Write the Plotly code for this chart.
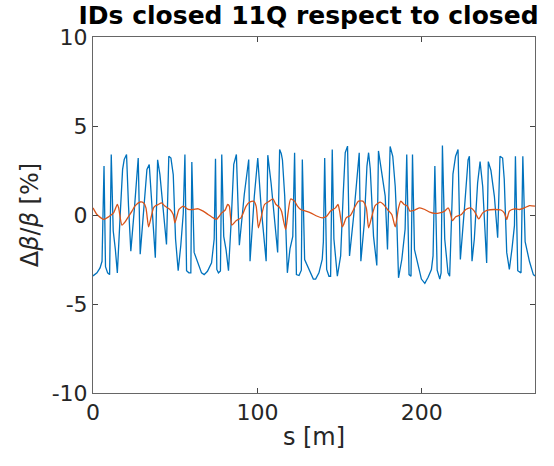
import plotly.graph_objects as go

# Beta-beat data
blue_s = [0.0, 2.4, 4.3, 5.5, 6.7, 7.6, 8.9, 10.1, 11.1, 12.3, 13.6, 14.8, 16.6, 18.0, 19.0, 20.4,
          21.6, 23.0, 25.3, 27.5, 28.7, 30.8, 32.8, 34.2, 35.8, 37.9, 39.3, 40.7, 42.7, 44.7,
          46.1, 47.4, 48.8, 50.2, 51.8, 53.4, 54.9, 55.9, 56.9, 58.3, 59.5, 60.1, 61.5, 63.6,
          66.0, 67.6, 69.6, 72.1, 73.7, 74.5, 75.3, 76.3, 77.5, 78.3, 79.5, 80.9, 82.4, 84.0,
          85.6, 87.2, 89.0, 92.0, 94.7, 95.5, 98.1, 100.2, 102.2, 105.3, 106.3, 108.3, 110.7,
          112.3, 113.5, 114.5, 115.2, 116.6, 118.2, 119.8, 121.5, 122.6, 123.7, 125.3, 126.7,
          127.3, 128.7, 131.4, 134.0, 135.4, 137.4, 139.4, 140.1, 140.9, 142.1, 143.5, 144.5,
          145.5, 146.5, 148.6, 150.6, 152.2, 153.4, 154.8, 156.0, 158.5, 160.5, 161.9, 162.9,
          165.0, 166.6, 167.6, 168.6, 170.6, 172.6, 173.6, 175.0, 177.7, 179.1, 180.7, 182.3,
          183.8, 184.8, 185.8, 187.8, 189.8, 190.8, 191.4, 192.2, 193.4, 194.3, 195.5, 197.7,
          199.7, 201.8, 203.8, 205.8, 206.8, 207.9, 209.3, 210.9, 211.7, 212.5, 213.9, 215.9,
          216.9, 218.9, 220.5, 222.0, 223.4, 226.0, 228.1, 228.9, 229.9, 230.5, 231.9, 233.9,
          235.4, 237.0, 239.4, 240.4, 242.0, 244.1, 246.1, 247.5, 249.1, 250.1, 251.6, 253.2,
          254.8, 256.3, 256.9, 258.3, 260.3, 261.4, 262.8, 265.4, 267.8, 268.8]
blue_v = [-3.42, -3.25, -2.97, -2.6, 2.75, -2.9, -3.25, -3.35, 3.40, -0.9, -1.94, -3.25, 0.12, 2.56,
          3.12, 3.40, 0.5, -2.03, 0.5, 3.2, -2.2, 0.1, 2.56, 2.84, 0.5, -2.4, 3.1, 2.27, 0.31, -1.66,
          3.3, 3.2, 2.27, -1.35, -3.13, -1.7, 0.1, 3.40, -3.13, -3.25, -3.25, 2.97, -2.1, -2.68,
          -3.25, -3.35, -3.16, -2.68, -1.35, 3.16, -3.06, -3.25, -3.15, 3.4, -1.2, -1.94, -3.13,
          -0.43, 2.84, 3.4, -1.7, 1.15, 3.12, -2.6, 1.05, 3.2, 0.5, -2.6, 3.36, 1.8, -0.62,
          -2.1, 3.68, 3.45, 3.1, 1.05, -3.25, -1.9, -1.2, 3.5, -3.35, -3.4, -3.1,
          3.12, -2.5, -3.06, -3.6, -3.6, -3.25, -2.5, -1.5, 3.2, -3.06, -3.44, -3.44,
          3.68, -1.35, -3.44, -2.3, 1.24, 3.5, 3.87, -2.3, -0.07, 2.0, 3.5, -2.6,
          -0.44, 2.75, 3.5, 2.6, -1.2, -2.84, 3.6, 2.75, 1.06, -1.94, 3.85, 3.3,
          1.6, -0.5, -3.53, -2.5, -0.8, 3.4, -0.44, -3.35, -3.44, 3.4, -1.94, -2.87,
          -3.6, -3.84, -3.5, -3.06, -2.3, 2.75, -3.1, -3.6, -3.25, 3.9, -1.35, -3.25,
          -3.44, 2.3, 3.3, 3.68, -2.5, 0.5, 3.1, 3.3, -1.35, -2.6, -1.35, 1.8,
          3.0, 1.6, -2.7, 3.0, 2.5, 1.05, -1.28, 3.3, 3.2, 2.0, -2.1, -3.06,
          -1.9, -0.6, 3.3, -3.13, -3.25, 3.3, -1.5, -2.6, -3.35, -3.42]

orange_s = [0.0, 2.4, 6.5, 9.5, 12.5, 14.8, 15.6, 17.6, 19.6, 21.7, 23.7, 25.7, 28.7, 30.8, 32.2,
            33.8, 35.4, 36.8, 38.2, 39.7, 41.7, 43.7, 46.8, 48.8, 49.8, 50.8, 52.3, 54.9, 58.0,
            61.0, 64.0, 67.0, 70.0, 73.1, 75.1, 76.5, 78.3, 80.4, 81.9, 82.9, 84.4, 87.0, 90.0,
            93.1, 95.1, 97.7, 99.2, 100.6, 102.2, 104.3, 107.3, 109.4, 111.3, 113.3, 114.7,
            115.8, 117.2, 118.6, 120.2, 122.6, 124.3, 126.3, 129.3, 132.3, 136.4, 139.4, 142.1,
            144.5, 147.5, 149.0, 150.0, 151.6, 152.4, 154.0, 156.5, 159.5, 161.5, 164.1, 166.2,
            167.6, 169.6, 171.6, 174.7, 176.7, 179.1, 181.7, 183.8, 185.8, 187.2, 189.2, 191.2,
            192.7, 195.7, 198.7, 201.8, 204.8, 207.9, 210.9, 213.9, 216.0, 217.0, 218.6, 220.6,
            224.1, 226.7, 229.6, 231.9, 234.6, 237.0, 240.0, 244.1, 248.1, 250.1, 251.6, 253.2,
            256.3, 259.3, 262.4, 265.4, 268.8]
orange_v = [0.4, 0.03, -0.25, -0.1, 0.12, 0.6, 0.4, -0.57, -0.38, -0.07, 0.22, 0.53, 0.73, 0.68, 0.4,
            -0.67, -0.1, 0.4, 0.53, 0.59, 0.68, 0.5, 0.31, 0.03, -0.44, -0.15, 0.31, 0.5, 0.31,
            0.31, 0.35, 0.22, 0.03, -0.16, -0.25, -0.1, 0.12, 0.28, 0.59, 0.5, -0.57, -0.32, -0.16,
            0.5, 0.72, 0.78, 0.5, -0.72, -0.16, 0.59, 0.78, 0.9, 0.59, 0.44, 0.2,
            -0.3, -0.82, 0.1, 0.9, 0.78, 0.5, 0.31, 0.22, 0.12, -0.07, -0.16, -0.07,
            0.22, 0.4, 0.59, 0.2, -0.67, -0.54, -0.16, -0.03, 0.5, 0.78, 0.78, 0.4,
            -0.72, -0.07, 0.53, 0.72, 0.59, 0.31, 0.03, -0.67, 0.4, 0.78, 0.59, 0.5,
            0.22, 0.28, 0.4, 0.31, 0.16, 0.09, 0.12, 0.22, 0.4, 0.22, -0.32, -0.1,
            0.03, 0.31, 0.4, 0.22, -0.22, 0.12, 0.28, 0.31, 0.28, 0.12, -0.25, 0.22,
            0.35, 0.31, 0.4, 0.53, 0.5]

x_ticks = [0, 100, 200]
y_ticks = [-10, -5, 0, 5, 10]
title_text = "IDs closed 11Q respect to closed"

fig = go.Figure()
fig.add_trace(go.Scatter(x=blue_s, y=blue_v, mode="lines",
                         line=dict(color="#0072BD", width=1.3), showlegend=False))
fig.add_trace(go.Scatter(x=orange_s, y=orange_v, mode="lines",
                         line=dict(color="#D95319", width=1.3, shape="spline", smoothing=0.6),
                         showlegend=False))

axis_common = dict(showgrid=False, zeroline=False, showline=True, mirror="ticks",
                   linecolor="#666666", linewidth=1, ticks="inside", ticklen=5,
                   tickcolor="#444444", tickwidth=1,
                   tickfont=dict(family="DejaVu Sans", size=22, color="#262626"))

fig.update_layout(
    width=554, height=466,
    margin=dict(l=93, r=19, t=37, b=73),
    paper_bgcolor="white", plot_bgcolor="white",
    title=dict(text="<b>" + title_text + "</b>", x=0.557, xanchor="center",
               y=0.985, yanchor="top",
               font=dict(family="DejaVu Sans", size=25, color="black")),
    xaxis=dict(range=[0, 268.8], tickvals=x_ticks, ticktext=[str(t) for t in x_ticks],
               title=dict(text="s [m]", font=dict(family="DejaVu Sans", size=24, color="#262626"),
                          standoff=3),
               **axis_common),
    yaxis=dict(range=[-10, 10], tickvals=y_ticks, ticktext=[str(t) for t in y_ticks],
               title=dict(text="Δ<i>β</i>/<i>β</i> [%]",
                          font=dict(family="DejaVu Sans", size=24, color="#262626"),
                          standoff=6),
               **axis_common),
)

fig.write_html("out.html")
